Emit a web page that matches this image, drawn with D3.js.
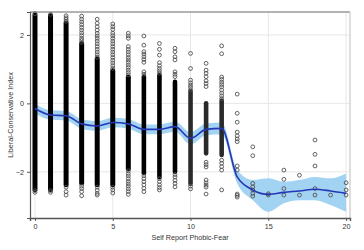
<!DOCTYPE html>
<html>
<head>
<meta charset="utf-8">
<script src="https://cdn.jsdelivr.net/npm/d3@7"></script>
<style>
  html, body { margin: 0; padding: 0; background: #fff; }
  svg { display: block; }
  text { font-family: "Liberation Sans", Arial, sans-serif; fill: #333; }
</style>
</head>
<body>
<svg id="chart" width="364" height="250"></svg>
<script>
// ---- data ----
const xValues = [0,1,2,3,4,5,6,7,8,9,10,11,12,13,14,15,16,17,18,19,20];
const xTicks = [0, 5, 10, 15, 20];
const yTicks = [-2, 0, 2];
const xTitle = "Self Report Phobic-Fear";
const yTitle = "Liberal-Conservative Index";

// dense (overplotted) part of each column: low / high
const coreLow  = [-2.52, -2.52, -2.38, -2.33, -2.38, -2.38, -1.9, -2.04, -2.15, -2.0, -2.35, -1.46, -1.51, null, null, null, null, null, null, null, null];
const coreHigh = [ 2.58,  2.56,  2.35,  1.74,  1.3,   0.95,  0.76, 0.78,  0.82,  0.63, 0.35,  0.0,   0.08, null, null, null, null, null, null, null, null];

// individual visible circles of each column
const scatterY = [
  [2.62, -2.55, -2.6],
  [2.6, -2.55, -2.6],
  [2.56, 2.5, 2.45, 2.4, -2.45, -2.58, -2.68],
  [2.55, 2.46, 2.38, 2.3, 2.22, 2.14, 2.06, 1.98, 1.9, 1.84, 1.78, -2.42, -2.49, -2.58, -2.7],
  [2.46, 2.34, 2.24, 2.14, 2.05, 1.97, 1.9, 1.82, 1.74, 1.66, 1.58, 1.5, 1.42, 1.35, -2.45, -2.54, -2.63, -2.68],
  [2.32, 2.24, 2.16, 2.05, 1.98, 1.9, 1.82, 1.74, 1.66, 1.58, 1.5, 1.42, 1.34, 1.26, 1.18, 1.1, 1.02, -2.45, -2.53, -2.62],
  [2.05, 1.97, 1.9, 1.66, 1.58, 1.5, 1.42, 1.34, 1.27, 1.2, 1.12, 1.05, 0.97, 0.9, 0.83, -1.97, -2.05, -2.12, -2.2, -2.28, -2.35, -2.42, -2.5, -2.58, -2.66],
  [1.97, 1.7, 1.51, 1.44, 1.36, 1.28, 1.2, 0.92, 0.85, -2.12, -2.2, -2.29, -2.38, -2.48, -2.58],
  [1.75, 1.58, 1.41, 1.19, 1.1, 1.02, 0.95, 0.88, -2.2, -2.29, -2.38, -2.46, -2.53],
  [1.61, 1.51, 1.36, 1.27, 0.92, 0.85, 0.78, -2.08, -2.15, -2.25, -2.34, -2.44],
  [1.46, 1.02, 0.68, 0.6, 0.53, 0.47, 0.4, -2.42, -2.5],
  [1.17, 0.97, 0.88, 0.78, 0.66, 0.58, 0.49, -1.72, -1.79, -1.86, -2.24, -2.32, -2.39, -2.45, -2.65],
  [1.68, 1.45, 0.77, 0.7, 0.62, 0.55, 0.48, 0.39, 0.3, 0.22, 0.14, -1.66, -1.75, -1.85, -1.95, -2.53],
  [0.27, -0.29, -0.55, -0.84, -0.95, -1.04, -1.12, -1.83, -1.95, -2.65, -2.69, -2.74],
  [-1.27, -1.53, -2.34, -2.44, -2.53, -2.63, -2.71],
  [-2.64, -2.68],
  [-1.95, -2.22, -2.49, -2.68],
  [-2.1, -2.68],
  [-1.07, -1.49, -1.83, -2.49, -2.68],
  [-2.68],
  [-2.32, -2.53, -2.68]
];

// smoothed fit and its confidence band
const fitY   = [-0.15, -0.34, -0.36, -0.6, -0.66, -0.56, -0.6, -0.76, -0.76, -0.68, -1.02, -0.76, -0.73, -2.15, -2.53, -2.66, -2.6, -2.56, -2.51, -2.56, -2.63];
const bandHi = [-0.02, -0.2, -0.22, -0.46, -0.52, -0.42, -0.46, -0.62, -0.62, -0.53, -0.84, -0.59, -0.56, -1.95, -2.24, -2.19, -2.29, -2.24, -2.15, -2.19, -2.05];
const bandLo = [-0.29, -0.48, -0.5, -0.74, -0.8, -0.7, -0.74, -0.9, -0.9, -0.83, -1.2, -0.93, -0.9, -2.34, -2.83, -3.17, -2.92, -2.83, -2.83, -2.97, -3.17];

// ---- drawing ----
const svg = d3.select("#chart");
const pLeft = 30, pRight = 350, pTop = 12, pBottom = 218;

const x = d3.scaleLinear().domain([-0.32, 20.25]).range([pLeft, pRight]);
const y = d3.scaleLinear().domain([-3.35, 2.67]).range([pBottom, pTop]);

// gridlines
svg.append("g").selectAll("line").data(xTicks).join("line")
  .attr("x1", d => x(d)).attr("x2", d => x(d))
  .attr("y1", pTop).attr("y2", pBottom)
  .attr("stroke", "#e6e8e6").attr("stroke-width", 1);
svg.append("g").selectAll("line").data(yTicks).join("line")
  .attr("x1", pLeft).attr("x2", pRight)
  .attr("y1", d => y(d)).attr("y2", d => y(d))
  .attr("stroke", "#e6e8e6").attr("stroke-width", 1);

// confidence band
const bandData = xValues.map((xv, i) => ({x: xv, lo: bandLo[i], hi: bandHi[i]}));
svg.append("path")
  .datum(bandData)
  .attr("fill", "#a3d3f2")
  .attr("d", d3.area().curve(d3.curveMonotoneX)
    .x(d => x(d.x)).y0(d => y(d.lo)).y1(d => y(d.hi)));

// dense column cores
const cores = xValues.map((xv, i) => ({x: xv, lo: coreLow[i], hi: coreHigh[i]})).filter(d => d.lo !== null);
svg.append("g").selectAll("line").data(cores).join("line")
  .attr("x1", d => x(d.x)).attr("x2", d => x(d.x))
  .attr("y1", d => y(d.lo)).attr("y2", d => y(d.hi))
  .attr("stroke", d => d.x >= 10 ? "#2a2a2a" : "#000")
  .attr("stroke-width", d => d.x >= 7 ? 4.6 : 5)
  .attr("stroke-linecap", "round");

// circles
const pts = [];
xValues.forEach((xv, i) => scatterY[i].forEach(v => pts.push({x: xv, y: v})));
svg.append("g").selectAll("circle").data(pts).join("circle")
  .attr("cx", d => x(d.x)).attr("cy", d => y(d.y))
  .attr("r", 1.9)
  .attr("fill", "none")
  .attr("stroke", "#505050")
  .attr("stroke-width", 0.9);

// fit line
svg.append("path")
  .datum(xValues.map((xv, i) => ({x: xv, y: fitY[i]})))
  .attr("fill", "none")
  .attr("stroke", "#2337b8")
  .attr("stroke-width", 1.6)
  .attr("d", d3.line().curve(d3.curveMonotoneX).x(d => x(d.x)).y(d => y(d.y)));

// frame
svg.append("line").attr("x1", pLeft).attr("x2", pRight).attr("y1", pTop).attr("y2", pTop)
  .attr("stroke", "#666").attr("stroke-width", 1);
svg.append("line").attr("x1", pRight).attr("x2", pRight).attr("y1", pTop).attr("y2", pBottom)
  .attr("stroke", "#c8c8c8").attr("stroke-width", 1.2);

// axes
const xAxis = d3.axisBottom(x).tickValues(xTicks).tickSize(3).tickPadding(3).tickFormat(d3.format("d"));
const gx = svg.append("g").attr("transform", `translate(0,${pBottom})`).call(xAxis);
gx.select(".domain").attr("stroke", "#555").attr("stroke-width", 1.4);
gx.selectAll(".tick line").attr("stroke", "#555");
gx.selectAll(".tick text").attr("font-size", "7.2px").attr("fill", "#333")
  .attr("font-family", "'Liberation Sans', Arial, sans-serif");

const yAxis = d3.axisLeft(y).tickValues(yTicks).tickSize(3).tickPadding(3).tickFormat(d3.format("d"));
const gy = svg.append("g").attr("transform", `translate(${pLeft},0)`).call(yAxis);
gy.select(".domain").attr("stroke", "#555").attr("stroke-width", 1.2);
gy.selectAll(".tick line").attr("stroke", "#555");
gy.selectAll(".tick text").attr("font-size", "7.2px").attr("fill", "#333")
  .attr("font-family", "'Liberation Sans', Arial, sans-serif");

// titles
svg.append("text")
  .attr("x", (pLeft + pRight) / 2).attr("y", 240)
  .attr("text-anchor", "middle").attr("font-size", "7.2px")
  .text(xTitle);
svg.append("text")
  .attr("transform", `translate(13,${(pTop + pBottom) / 2}) rotate(-90)`)
  .attr("text-anchor", "middle").attr("font-size", "7.2px")
  .text(yTitle);
</script>
</body>
</html>
